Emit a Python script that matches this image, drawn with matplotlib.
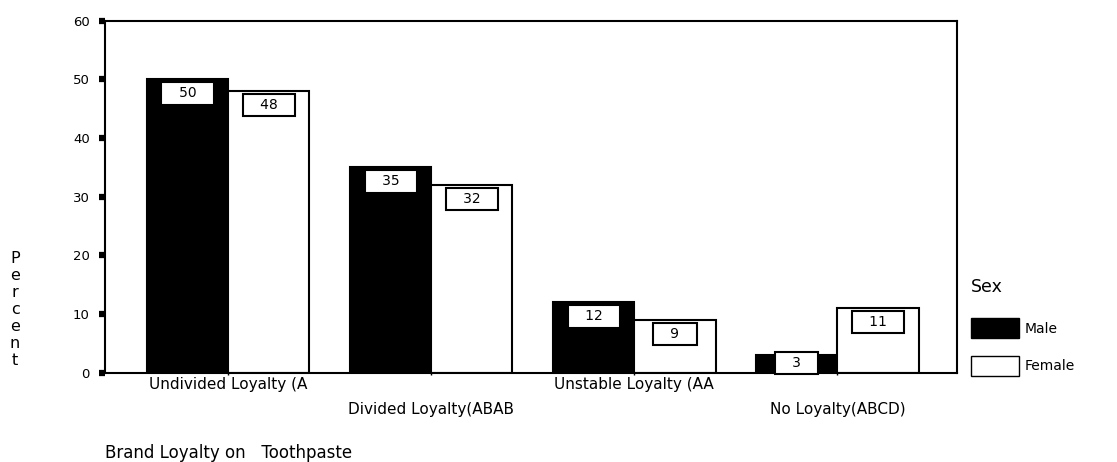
import matplotlib
matplotlib.use("Agg")
import matplotlib.pyplot as plt
import numpy as np
from matplotlib.patches import Patch

# data
categories = ['Undivided Loyalty (A', 'Divided Loyalty(ABAB',
              'Unstable Loyalty (AA', 'No Loyalty(ABCD)']
male = [50, 35, 12, 3]
female = [48, 32, 9, 11]
yticks = [0, 10, 20, 30, 40, 50, 60]

plt.rcParams['font.family'] = ['DejaVu Sans']

fig = plt.figure(figsize=(11.17, 4.62), dpi=100)
ax = fig.add_axes([0.094, 0.193, 0.763, 0.762])

x = np.arange(len(categories))
w = 0.4
ax.bar(x - w / 2, male, width=w, color='black', edgecolor='black', linewidth=1.5)
ax.bar(x + w / 2, female, width=w, color='white', edgecolor='black', linewidth=1.5)

# value boxes hanging from the top of every bar (short bars: keep box near axis)
for xs, vals in [(x - w / 2, male), (x + w / 2, female)]:
    for xi, v in zip(xs, vals):
        ax.annotate('   %d   ' % v, xy=(xi, max(v, 4)), xytext=(0, -5),
                    textcoords='offset points', ha='center', va='top',
                    fontsize=10,
                    bbox=dict(boxstyle='square,pad=0.3', fc='white',
                              ec='black', lw=1.5))

ax.set_xlim(-0.606, 3.59)
ax.set_ylim(0, 60)
ax.set_yticks(yticks)
ax.tick_params(axis='y', direction='out', length=4.5, width=4.5,
               labelsize=9.5, pad=6.5)
ax.set_xticks(x)
ax.set_xticklabels(categories, fontsize=11)
ax.tick_params(axis='x', direction='out', length=1.5, width=1)
for i, t in enumerate(ax.xaxis.get_major_ticks()):
    t.set_pad(1.5 if i % 2 == 0 else 19.5)

for sp in ax.spines.values():
    sp.set_linewidth(1.5)

# stacked y label
fig.text(0.0135, 0.33, 'P\ne\nr\nc\ne\nn\nt', ha='center', va='center',
         fontsize=11.5, linespacing=1.17)

fig.text(0.094, 0.0087, 'Brand Loyalty on   Toothpaste', ha='left',
         va='baseline', fontsize=12)

# legend
handles = [Patch(facecolor='black', edgecolor='black', label='Male'),
           Patch(facecolor='white', edgecolor='black', label='Female')]
leg = fig.legend(handles=handles, title='Sex', loc='upper left',
                 bbox_to_anchor=(0.869, 0.398), frameon=False,
                 borderpad=0, borderaxespad=0,
                 fontsize=10, title_fontsize=12.5,
                 handlelength=3.5, handleheight=1.84, handletextpad=0.35,
                 labelspacing=1.25, alignment='left')
leg._legend_box.sep = 16

fig.savefig('out.png', dpi=100)
